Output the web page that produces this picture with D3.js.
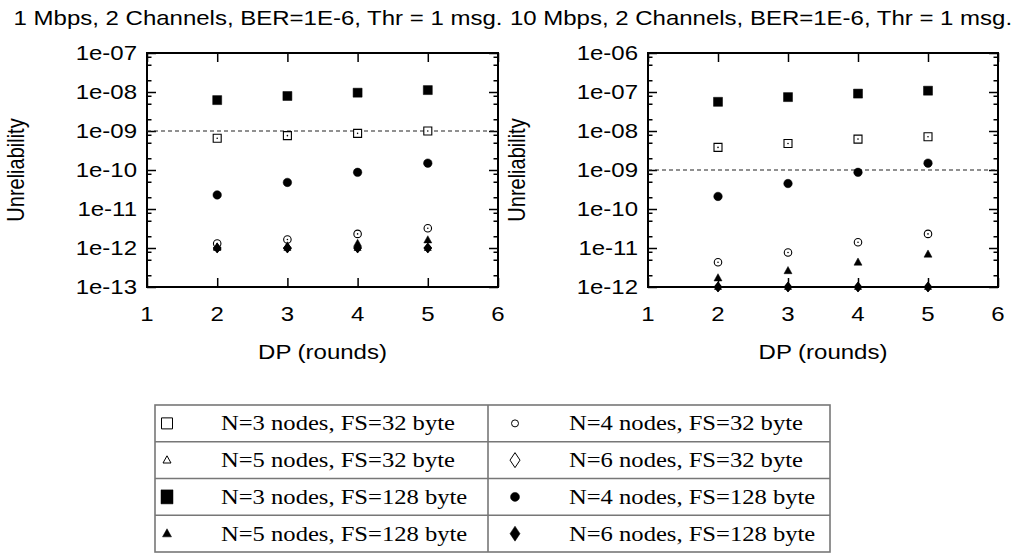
<!DOCTYPE html>
<html>
<head>
<meta charset="utf-8">
<script src="https://cdn.jsdelivr.net/npm/d3@7"></script>
<style>
  html, body { margin: 0; padding: 0; background: #fff; }
  svg { display: block; }
  .sans { font-family: "Liberation Sans", Arial, Helvetica, sans-serif; fill: #000; }
  .serif { font-family: "Liberation Serif", "Times New Roman", serif; fill: #000; }
</style>
</head>
<body>
<svg id="chart" width="1019" height="554"></svg>
<script>
// ---- data ----
const rounds = [2, 3, 4, 5];

const titles = [
  "1 Mbps, 2 Channels, BER=1E-6, Thr = 1 msg.",
  "10 Mbps, 2 Channels, BER=1E-6, Thr = 1 msg."
];
const yDomains = [[1e-13, 1e-7], [1e-12, 1e-6]];
const xTicks = [1, 2, 3, 4, 5, 6];
const targetLevel = 1e-9;

// 1 Mbps panel
const slowN3fs32  = [6.5e-10, 7.6e-10, 8.7e-10, 1.0e-9];
const slowN4fs32  = [1.3e-12, 1.65e-12, 2.3e-12, 3.2e-12];
const slowN5fs32  = [1e-12, 1e-12, 1e-12, 1e-12];
const slowN6fs32  = [1e-12, 1e-12, 1e-12, 1e-12];
const slowN3fs128 = [6.2e-9, 7.9e-9, 9.6e-9, 1.12e-8];
const slowN4fs128 = [2.3e-11, 4.8e-11, 8.7e-11, 1.5e-10];
const slowN5fs128 = [1.05e-12, 1.12e-12, 1.3e-12, 1.6e-12];
const slowN6fs128 = [1e-12, 1e-12, 1e-12, 1e-12];

// 10 Mbps panel
const fastN3fs32  = [3.8e-9, 4.8e-9, 6.2e-9, 7.1e-9];
const fastN4fs32  = [4.3e-12, 7.7e-12, 1.4e-11, 2.3e-11];
const fastN5fs32  = [1e-12, 1e-12, 1e-12, 1e-12];
const fastN6fs32  = [1e-12, 1e-12, 1e-12, 1e-12];
const fastN3fs128 = [5.6e-8, 7.4e-8, 9.1e-8, 1.08e-7];
const fastN4fs128 = [2.1e-10, 4.5e-10, 8.7e-10, 1.5e-9];
const fastN5fs128 = [1.7e-12, 2.6e-12, 4.3e-12, 6.9e-12];
const fastN6fs128 = [1e-12, 1e-12, 1e-12, 1e-12];

const legendLabels = [
  "N=3 nodes, FS=32 byte", "N=4 nodes, FS=32 byte",
  "N=5 nodes, FS=32 byte", "N=6 nodes, FS=32 byte",
  "N=3 nodes, FS=128 byte", "N=4 nodes, FS=128 byte",
  "N=5 nodes, FS=128 byte", "N=6 nodes, FS=128 byte"
];

// ---- layout ----
const svg = d3.select("#chart");
const STRETCH = 1.2;           // horizontal glyph stretch used for all text
const panels = [
  { left: 147, right: 498, titleX: 258 },
  { left: 648, right: 998, titleX: 761 }
];
const plotTop = 53, plotBottom = 287;

function label(g, x, y, txt, cls, size, anchor, rotate) {
  return g.append("text")
    .attr("class", cls)
    .attr("transform", `translate(${x},${y}) scale(${STRETCH},1)` + (rotate ? " rotate(-90)" : ""))
    .attr("text-anchor", anchor || "start")
    .attr("font-size", size)
    .text(txt);
}

// custom marker shapes (size = full width in px)
function markerPath(shape, w) {
  const h = w / 2;
  const p = d3.path();
  if (shape === "square") {
    p.rect(-h, -h, w, w);
  } else if (shape === "circle") {
    p.arc(0, 0, h, 0, 2 * Math.PI);
  } else if (shape === "triangle") {
    const th = w * 0.9;
    p.moveTo(0, -th * 0.6); p.lineTo(h, th * 0.4); p.lineTo(-h, th * 0.4); p.closePath();
  } else if (shape === "diamond") {
    const vh = w * 0.62;
    p.moveTo(0, -vh); p.lineTo(h, 0); p.lineTo(0, vh); p.lineTo(-h, 0); p.closePath();
  }
  return p.toString();
}

const seriesStyle = {
  n3fs32:  { shape: "square",   filled: false, w: 8 },
  n4fs32:  { shape: "circle",   filled: false, w: 7.5 },
  n5fs32:  { shape: "triangle", filled: false, w: 6 },
  n6fs32:  { shape: "diamond",  filled: false, w: 7 },
  n3fs128: { shape: "square",   filled: true,  w: 9 },
  n4fs128: { shape: "circle",   filled: true,  w: 8.5 },
  n5fs128: { shape: "triangle", filled: true,  w: 8 },
  n6fs128: { shape: "diamond",  filled: true,  w: 8 }
};

const panelSeries = [
  { n3fs32: slowN3fs32, n4fs32: slowN4fs32, n5fs32: slowN5fs32, n6fs32: slowN6fs32,
    n3fs128: slowN3fs128, n4fs128: slowN4fs128, n5fs128: slowN5fs128, n6fs128: slowN6fs128 },
  { n3fs32: fastN3fs32, n4fs32: fastN4fs32, n5fs32: fastN5fs32, n6fs32: fastN6fs32,
    n3fs128: fastN3fs128, n4fs128: fastN4fs128, n5fs128: fastN5fs128, n6fs128: fastN6fs128 }
];
const drawOrder = ["n5fs32", "n6fs32", "n3fs32", "n4fs32", "n3fs128", "n4fs128", "n5fs128", "n6fs128"];

function expLabel(v) {
  const e = Math.round(Math.log10(v));
  const a = Math.abs(e);
  return "1e" + (e < 0 ? "-" : "+") + (a < 10 ? "0" + a : a);
}

panels.forEach((pn, i) => {
  const g = svg.append("g");
  const x = d3.scaleLinear().domain([1, 6]).range([pn.left, pn.right]);
  const y = d3.scaleLog().domain(yDomains[i]).range([plotBottom, plotTop]);
  const lo = Math.round(Math.log10(yDomains[i][0]));
  const hi = Math.round(Math.log10(yDomains[i][1]));
  const majors = d3.range(lo, hi + 1).map(e => Math.pow(10, e));
  const minors = [];
  d3.range(lo, hi).forEach(e => [2, 5, 8].forEach(m => minors.push(m * Math.pow(10, e))));

  const W = pn.right - pn.left, H = plotBottom - plotTop;

  // title
  label(g, pn.titleX, 25, titles[i], "sans", 20, "middle");

  // ticks (inward on all four sides)
  const tickStyle = sel => {
    sel.select(".domain").remove();
    sel.selectAll(".tick line").attr("stroke", "#000").attr("stroke-width", 1.5);
  };
  g.append("g").attr("transform", `translate(${pn.left},0)`)
    .call(d3.axisLeft(y).tickValues(majors).tickSize(-9).tickFormat("")).call(tickStyle);
  g.append("g").attr("transform", `translate(${pn.left},0)`)
    .call(d3.axisLeft(y).tickValues(minors).tickSize(-4.5).tickFormat("")).call(tickStyle);
  g.append("g").attr("transform", `translate(${pn.right},0)`)
    .call(d3.axisRight(y).tickValues(majors).tickSize(-9).tickFormat("")).call(tickStyle);
  g.append("g").attr("transform", `translate(${pn.right},0)`)
    .call(d3.axisRight(y).tickValues(minors).tickSize(-4.5).tickFormat("")).call(tickStyle);
  g.append("g").attr("transform", `translate(0,${plotBottom})`)
    .call(d3.axisBottom(x).tickValues(xTicks).tickSize(-9).tickFormat("")).call(tickStyle);
  g.append("g").attr("transform", `translate(0,${plotTop})`)
    .call(d3.axisTop(x).tickValues(xTicks).tickSize(-9).tickFormat("")).call(tickStyle);

  // frame
  g.append("rect").attr("x", pn.left).attr("y", plotTop).attr("width", W).attr("height", H)
    .attr("fill", "none").attr("stroke", "#000").attr("stroke-width", 2);

  // tick labels
  majors.forEach(v => label(g, pn.left - 10, y(v) + 7, expLabel(v), "sans", 20, "end"));
  xTicks.forEach(v => label(g, x(v), plotBottom + 34, String(v), "sans", 20, "middle"));

  // axis titles
  label(g, pn.left - 123, (plotTop + plotBottom) / 2, "Unreliability", "sans", 20, "middle", true);
  label(g, (pn.left + pn.right) / 2, 359, "DP (rounds)", "sans", 20, "middle");

  // reference level
  g.append("line")
    .attr("x1", pn.left).attr("x2", pn.right)
    .attr("y1", y(targetLevel)).attr("y2", y(targetLevel))
    .attr("stroke", "#222").attr("stroke-width", 1.2).attr("stroke-dasharray", "4,3");

  // points
  drawOrder.forEach(key => {
    const st = seriesStyle[key];
    const vals = panelSeries[i][key];
    const pts = g.append("g").selectAll("g").data(rounds.map((r, k) => ({ r, v: vals[k] })))
      .join("g").attr("transform", d => `translate(${x(d.r)},${y(d.v)})`);
    pts.append("path").attr("d", markerPath(st.shape, st.w))
      .attr("fill", st.filled ? "#000" : "#fff")
      .attr("stroke", "#000").attr("stroke-width", st.filled ? 0.5 : 1.1);
    if (!st.filled && (st.shape === "square" || st.shape === "circle")) {
      pts.append("circle").attr("r", 0.8).attr("fill", "#000");
    }
  });
});

// ---- legend table ----
const lg = svg.append("g");
const L = { x0: 155, x1: 830, xm: 488, y0: 405, rowH: 36.75 };
const rows = 4;
lg.append("rect").attr("x", L.x0).attr("y", L.y0)
  .attr("width", L.x1 - L.x0).attr("height", rows * L.rowH)
  .attr("fill", "none").attr("stroke", "#777").attr("stroke-width", 1.6);
d3.range(1, rows).forEach(r => lg.append("line")
  .attr("x1", L.x0).attr("x2", L.x1)
  .attr("y1", L.y0 + r * L.rowH).attr("y2", L.y0 + r * L.rowH)
  .attr("stroke", "#777").attr("stroke-width", 1.6));
lg.append("line").attr("x1", L.xm).attr("x2", L.xm)
  .attr("y1", L.y0).attr("y2", L.y0 + rows * L.rowH)
  .attr("stroke", "#777").attr("stroke-width", 1.6);

const legendKeys = ["n3fs32", "n4fs32", "n5fs32", "n6fs32", "n3fs128", "n4fs128", "n5fs128", "n6fs128"];
const legendMarkerSize = { n3fs32: 11, n4fs32: 7, n5fs32: 8, n6fs32: 9, n3fs128: 12, n4fs128: 9, n5fs128: 9, n6fs128: 9 };
legendKeys.forEach((key, k) => {
  const row = Math.floor(k / 2), col = k % 2;
  const cy = L.y0 + (row + 0.5) * L.rowH;
  const sx = col === 0 ? 167 : 515;
  const tx = col === 0 ? 221 : 569;
  const st = seriesStyle[key];
  let shape = st.shape;
  let path = markerPath(shape, legendMarkerSize[key]);
  if (key === "n3fs128") {
    const p = d3.path(); p.rect(-6, -7, 12, 14); path = p.toString();
  }
  if (shape === "diamond") {
    const p = d3.path(); p.moveTo(0, -7.5); p.lineTo(5, 0); p.lineTo(0, 7.5); p.lineTo(-5, 0); p.closePath(); path = p.toString();
  }
  lg.append("path").attr("transform", `translate(${sx},${cy})`).attr("d", path)
    .attr("fill", st.filled ? "#000" : "#fff").attr("stroke", "#000")
    .attr("stroke-width", st.filled ? 0.5 : 1);
  label(lg, tx, cy + 7, legendLabels[k], "serif", 20.5, "start");
});
</script>
</body>
</html>
